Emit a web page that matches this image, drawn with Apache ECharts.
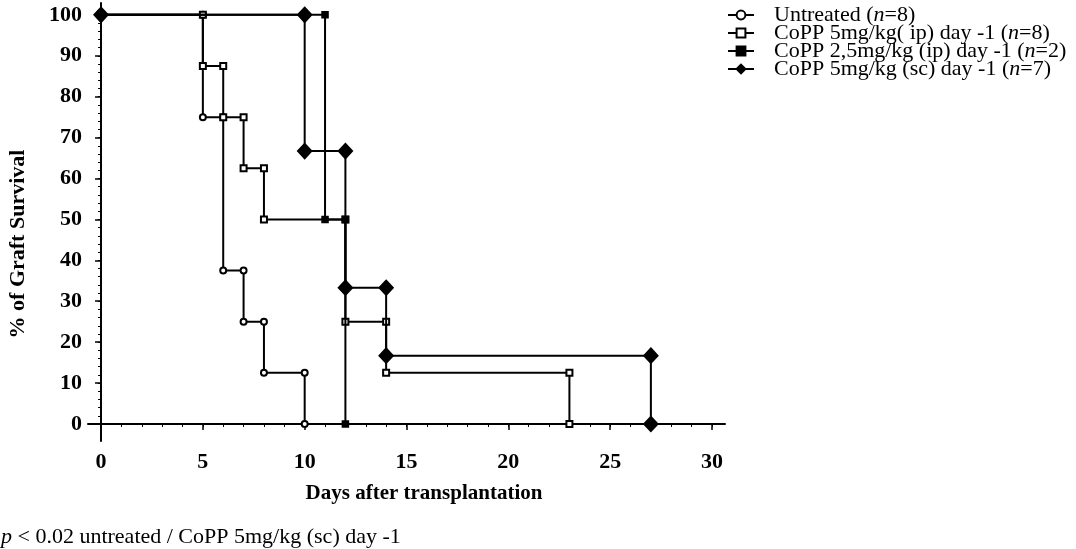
<!DOCTYPE html>
<html>
<head>
<meta charset="utf-8">
<script src="https://cdn.jsdelivr.net/npm/echarts@6/dist/echarts.min.js"></script>
<style>
html,body{margin:0;padding:0;background:#fff;}
#chart{width:1076px;height:549px;}
</style>
</head>
<body>
<div id="chart"></div>
<script>
// ---- data ----
var seriesNames = [
  'Untreated (n=8)',
  'CoPP 5mg/kg( ip) day -1 (n=8)',
  'CoPP 2,5mg/kg (ip) day -1 (n=2)',
  'CoPP 5mg/kg (sc) day -1 (n=7)'
];
var untreated = [[0,100],[5,100],[5,75],[6,75],[6,37.5],[7,37.5],[7,25],[8,25],[8,12.5],[10,12.5],[10,0]];
var coppIp5 = [[0,100],[5,100],[5,87.5],[6,87.5],[6,75],[7,75],[7,62.5],[8,62.5],[8,50],[12,50],[12,25],[14,25],[14,12.5],[23,12.5],[23,0]];
var coppIp25 = [[0,100],[11,100],[11,50],[12,50],[12,0]];
var coppSc5 = [[0,100],[10,100],[10,66.7],[12,66.7],[12,33.3],[14,33.3],[14,16.7],[27,16.7],[27,0]];
var xMajorTicks = [0,5,10,15,20,25,30];
var xMinorTicks = [0,1,2,3,4,5,6,7,8,9,10,11,12,13,14,15,16,17,18,19,20,21,22,23,24,25,26,27,28,29,30];
var yMajorTicks = [0,10,20,30,40,50,60,70,80,90,100];
var yMinorTicks = [0,2,4,6,8,10,12,14,16,18,20,22,24,26,28,30,32,34,36,38,40,42,44,46,48,50,52,54,56,58,60,62,64,66,68,70,72,74,76,78,80,82,84,86,88,90,92,94,96,98,100];
var xTitle = 'Days after transplantation';
var yTitle = '% of Graft Survival';
var noteRest = ' < 0.02 untreated / CoPP 5mg/kg (sc) day -1';

var serif = '"Liberation Serif", "Times New Roman", serif';
var chart = echarts.init(document.getElementById('chart'), null, {renderer:'canvas'});

function legendLabel(name){
  var m = name.match(/^(.*\()n(=\d+\))$/);
  if (!m) return name;
  return m[1] + '{i|n}' + m[2];
}

function mkSeries(name, data, symbol, size, z){
  return {
    name: name, type: 'line', data: data,
    xAxisIndex: 0, yAxisIndex: 0,
    symbol: symbol, symbolSize: size, showSymbol: true,
    lineStyle: {color:'#000', width:2},
    itemStyle: {color:'#000', borderColor:'#000', borderWidth:1.5},
    animation: false, z: z, emphasis: {disabled: true}
  };
}

var axisCommon = {
  type: 'value',
  axisLine: {show:true, lineStyle:{color:'#000', width:2}},
  splitLine: {show:false}
};

var option = {
  backgroundColor: '#fff',
  animation: false,
  grid: {left: 88, right: 351, top: 3, bottom: 108, containLabel: false},
  legend: {
    orient: 'vertical', left: 722, top: -1, itemGap: -4,
    itemWidth: 26, itemHeight: 11,
    data: seriesNames,
    formatter: legendLabel,
    textStyle: {
      fontFamily: serif, fontSize: 22, color: '#000', lineHeight: 18,
      padding: [0,0,0,15],
      rich: {i: {fontFamily: serif, fontSize: 22, fontStyle: 'italic', color:'#000', lineHeight: 18}}
    }
  },
  xAxis: [
    Object.assign({}, axisCommon, {
      min: -0.64, max: 30.64, position: 'bottom',
      axisTick: {show:true, length:6, inside:false, customValues: xMajorTicks, lineStyle:{color:'#000', width:1.5}},
      axisLabel: {show:true, customValues: xMajorTicks, margin: 10,
        fontFamily: serif, fontWeight: 'bold', fontSize: 22, color:'#000'}
    }),
    Object.assign({}, axisCommon, {
      min: -0.64, max: 30.64, position: 'bottom',
      axisLine: {show:false},
      axisTick: {show:true, length:3, inside:false, customValues: xMinorTicks, lineStyle:{color:'#000', width:1}},
      axisLabel: {show:false}
    })
  ],
  yAxis: [
    Object.assign({}, axisCommon, {
      min: -4.16, max: 102.9, position: 'left',
      axisTick: {show:true, length:6, inside:false, customValues: yMajorTicks, lineStyle:{color:'#000', width:1.5}},
      axisLabel: {show:true, customValues: yMajorTicks, margin: 6,
        fontFamily: serif, fontWeight: 'bold', fontSize: 22, color:'#000'}
    }),
    Object.assign({}, axisCommon, {
      min: -4.16, max: 102.9, position: 'left',
      axisLine: {show:false},
      axisTick: {show:true, length:3, inside:false, customValues: yMinorTicks, lineStyle:{color:'#000', width:1}},
      axisLabel: {show:false}
    })
  ],
  graphic: [
    {type:'text', x: 424, y: 494, style: {text: xTitle, fontFamily: serif, fontWeight:'bold', fontSize: 21, fill:'#000', align:'center', verticalAlign:'middle'}},
    {type:'text', x: 18, y: 244, rotation: Math.PI/2, style: {text: yTitle, fontFamily: serif, fontWeight:'bold', fontSize: 22, fill:'#000', align:'center', verticalAlign:'middle'}},
    {type:'text', x: 1, y: 537, style: {
      text: '{i|p}' + noteRest, fontFamily: serif, fontSize: 22, fill:'#000', verticalAlign:'middle',
      rich: {i: {fontFamily: serif, fontSize: 22, fontStyle:'italic', fill:'#000'}}
    }}
  ],
  series: [
    mkSeries(seriesNames[0], untreated, 'emptyCircle', 6, 2),
    mkSeries(seriesNames[1], coppIp5, 'emptyRect', 6, 3),
    mkSeries(seriesNames[2], coppIp25, 'rect', 6, 4),
    mkSeries(seriesNames[3], coppSc5, 'diamond', [14,15], 5)
  ]
};
chart.setOption(option);
</script>
</body>
</html>
